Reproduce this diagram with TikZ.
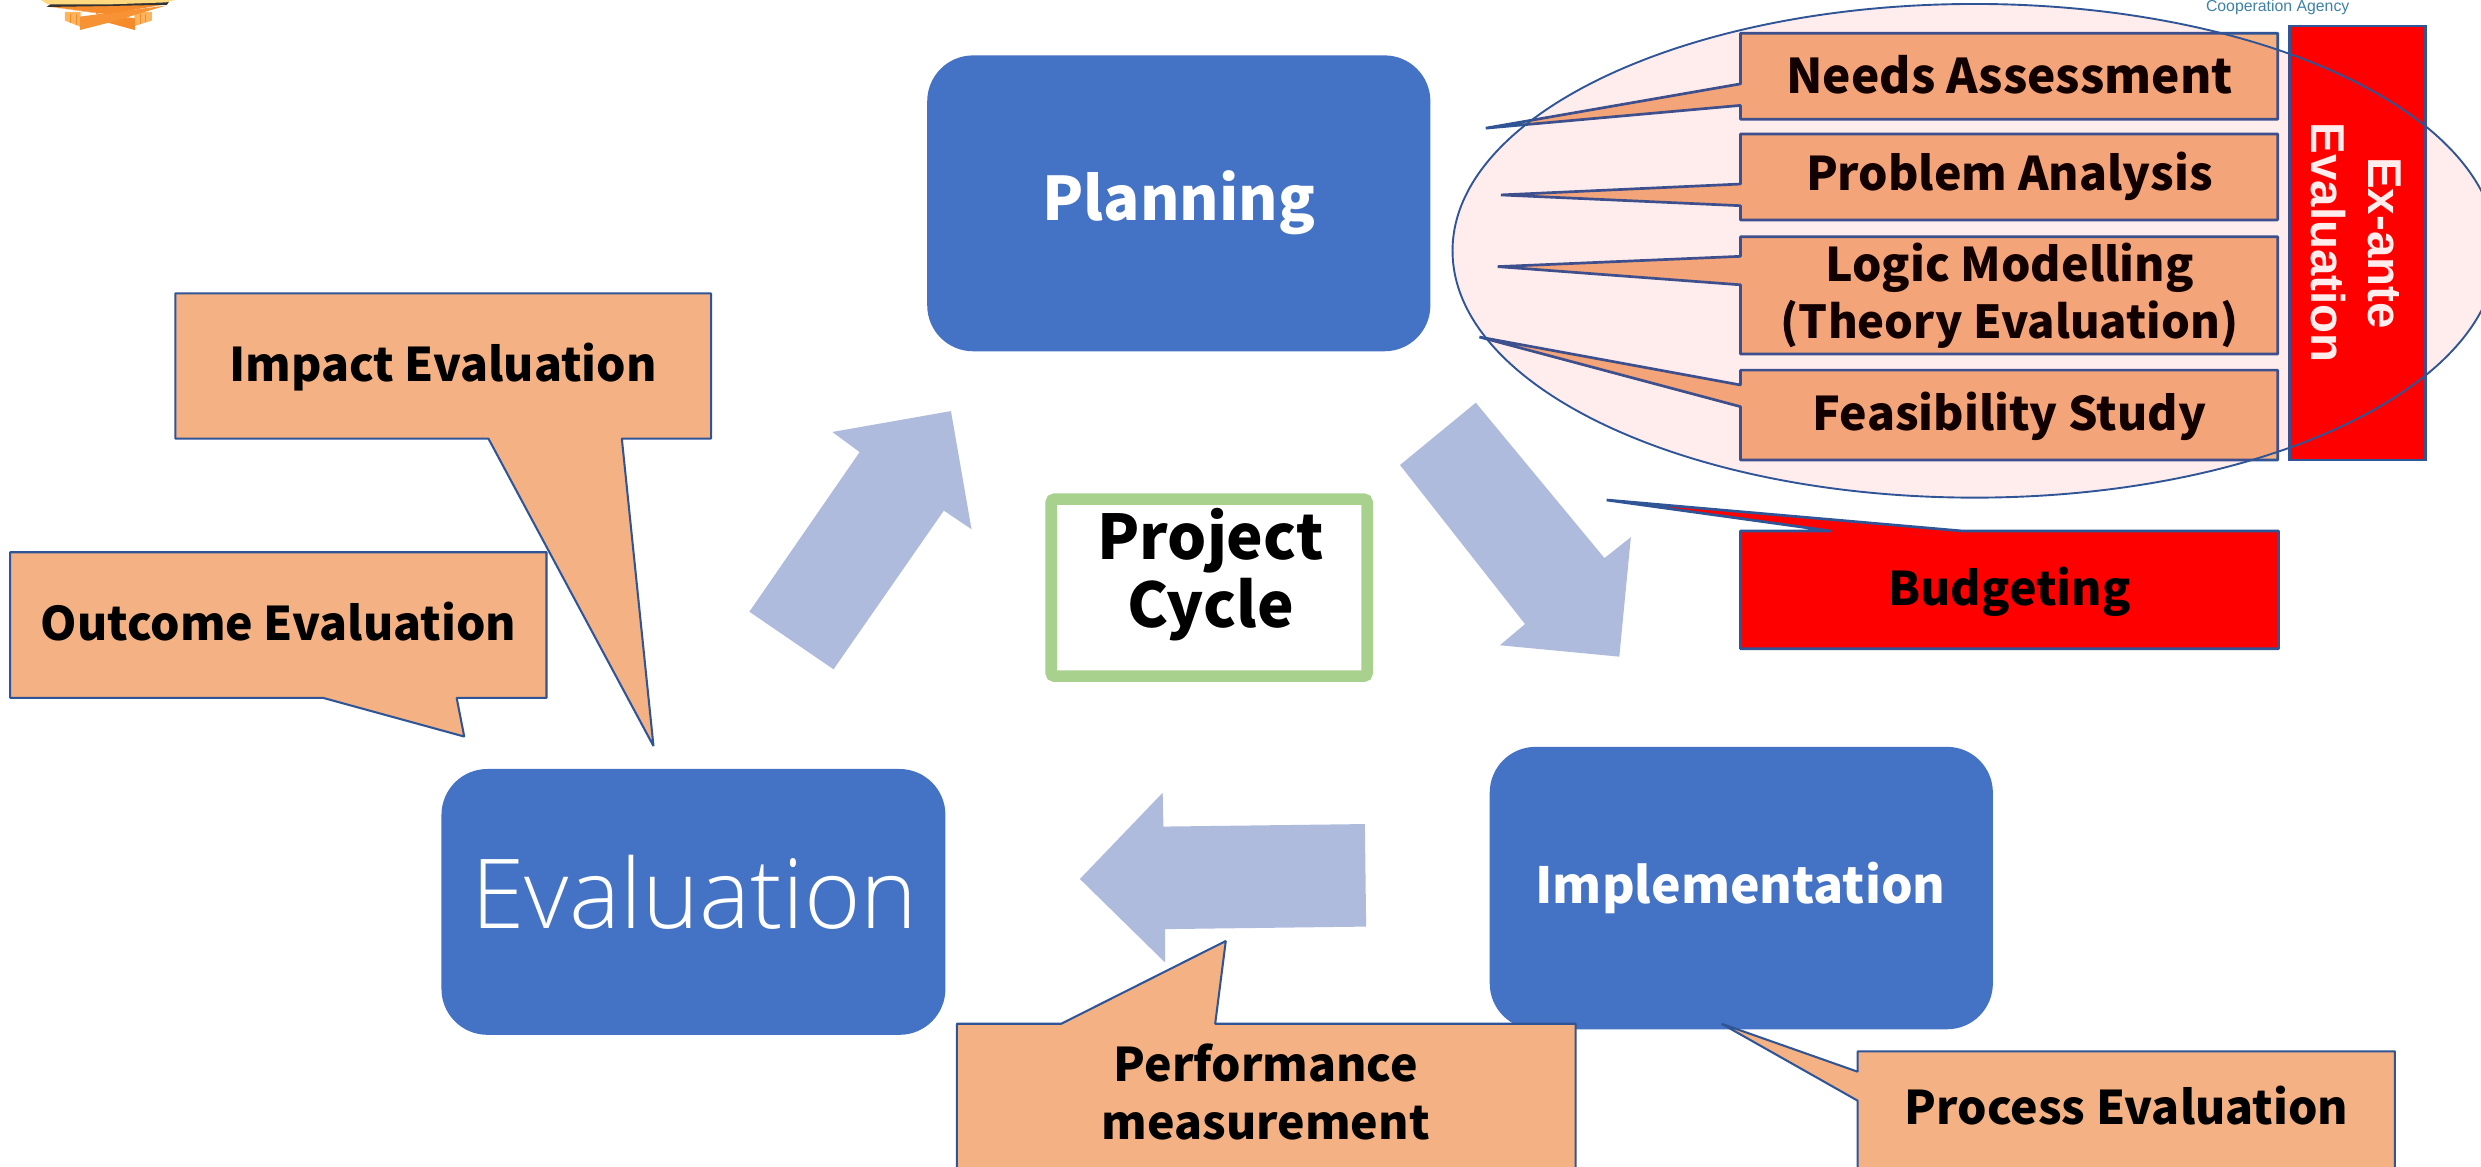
\documentclass[tikz,border=0pt]{standalone}
\usepackage{fontspec}
\usepackage{graphicx}
\setmainfont{Noto Sans CJK JP}
\newfontfamily\arialf{Liberation Sans}
\newfontfamily\lightf{Open Sans Light}
\definecolor{stageblue}{HTML}{4472C4}
\definecolor{edgeblue}{HTML}{2F5597}
\definecolor{arrowblue}{HTML}{AFBBDD}
\definecolor{peach}{HTML}{F4B183}
\definecolor{framegreen}{HTML}{A9D18E}
\definecolor{agencyblue}{HTML}{3F81A6}
\definecolor{logoorange}{HTML}{F58B2A}
\definecolor{logolight}{HTML}{FDB45C}
\definecolor{logocream}{HTML}{FFD980}
\tikzset{
  x=1pt,y=-1pt,
  stagebox/.style={fill=stageblue,rounded corners=29pt},
  stagetext/.style={text=white,align=center,inner sep=0pt},
  blockarrow/.style={fill=arrowblue},
  callout/.style={draw=edgeblue,fill=peach,line width=1.3pt,line join=bevel},
  plancallout/.style={callout,line width=1.7pt},
  redcallout/.style={plancallout,fill=red},
  label/.style={font=\bfseries\fontsize{29.3}{36}\selectfont,text=black,align=center,inner sep=0pt},
}
\begin{document}
\begin{tikzpicture}
\useasboundingbox (0,0) rectangle (1568,737);
\clip (0,0) rectangle (1568,737);
% logo fragment
\fill[logolight] (41,7.5) -- (51,7.5) -- (51,17) -- (41,13) -- cycle;
\fill[logolight] (85,7.5) -- (96,7.5) -- (96,13) -- (85,16.5) -- cycle;
\draw[logoorange,line width=.5pt] (44.5,9) -- (44.5,14.5) (48,9) -- (48,16) (88.5,9) -- (88.5,15.4) (92,9) -- (92,14.2);
\fill[logoorange] (30,4.2) -- (85.3,11.6) -- (85.3,19) -- (67,14) -- (60,8) -- cycle;
\fill[logoorange!80!logolight] (50.5,10.5) -- (105,3.5) -- (70,14) -- (50.5,19) -- cycle;
\fill[logoorange] (30,4) -- (106,2.5) -- (68,9) -- cycle;
\fill[black!80] (29.5,4.4) -- (32,2.5) -- (68,2.5) -- (107,0.8) -- (105.5,3) -- (68,3.8) -- cycle;
\fill[logocream] (26,0) -- (110.6,0) -- (105,1.5) -- (68,2.8) -- (30,2.8) -- cycle;
\node[font=\arialf\fontsize{10}{12}\selectfont,text=agencyblue,inner sep=0pt] (agency) at (1439.5,4.6) {Cooperation Agency};
% stages
\path[stagebox] (586,35) rectangle (904,222);
\node[stagetext,font=\bfseries\fontsize{38}{48}\selectfont] (planning) at (745,128) {Planning};
\path[stagebox] (941.5,472) rectangle (1259.5,650.5);
\node[stagetext,font=\bfseries\fontsize{31.5}{40}\selectfont] (implementation) at (1100,561) {Implementation};
\path[stagebox] (279,486) rectangle (597.5,654);
\node[stagetext,font=\lightf\fontsize{61}{70}\selectfont] (evaluation) at (439,564) {Evaluation};
% block arrows
\path[blockarrow] (932.7,254.5) -- (884.8,293.9) -- (963.8,394.4) -- (947.9,407.8) -- (1023.4,415) -- (1030.7,339.5) -- (1014,352.7) -- cycle;
\path[blockarrow] (473.6,386.6) -- (526.8,423) -- (596.5,322.7) -- (614,334.5) -- (601,259.8) -- (526,273) -- (543.3,285.7) -- cycle;
\path[blockarrow] (682.5,555.5) -- (734.8,501) -- (735.3,522.4) -- (862.6,520.8) -- (863.4,585.6) -- (736.4,587.2) -- (736.4,608.4) -- cycle;
% centre frame
\draw[framegreen,line width=7.3pt,rounded corners=2pt,fill=white] (664.4,315.5) rectangle (864,427.3);
\node[font=\bfseries\fontsize{39}{43}\selectfont,align=center,inner sep=0pt] (project) at (765,342) {Project};
\node[font=\bfseries\fontsize{39}{43}\selectfont,align=center,inner sep=0pt] (cycle) at (765,385) {Cycle};
% left callouts
\draw[callout] (110.8,185.4) -- (449.4,185.4) -- (449.4,277.2) -- (393,277.2) -- (413,471.5) -- (308.7,277.2) -- (110.8,277.2) -- cycle;
\node[label] (impact) at (280,232) {Impact Evaluation};
\draw[callout] (6.4,349) -- (345.4,349) -- (345.4,441) -- (288.6,441) -- (293.4,465.5) -- (204,441) -- (6.4,441) -- cycle;
\node[label] (outcome) at (176,393) {Outcome Evaluation};
% bottom callouts
\draw[callout] (604.7,647) -- (670.7,647) -- (774.7,594.7) -- (768,647) -- (995.8,647) -- (995.8,760) -- (604.7,760) -- cycle;
\node[label] (performance) at (800,672) {Performance};
\node[label] (measurement) at (800,710) {measurement};
\draw[callout] (1174,664.5) -- (1513.6,664.5) -- (1513.6,760) -- (1174,760) -- (1174,695.6) -- (1088,647) -- (1174,677.3) -- cycle;
\node[label] (process) at (1344,699) {Process Evaluation};
% planning callouts
\draw[plancallout] (1100,21) -- (1439.5,21) -- (1439.5,75.4) -- (1100,75.4) -- (1100,66.6) -- (939,81) -- (1100,53) -- cycle;
\draw[plancallout] (1100,84.7) -- (1439.5,84.7) -- (1439.5,139) -- (1100,139) -- (1100,130) -- (948.6,123.2) -- (1100,116.3) -- cycle;
\draw[plancallout] (1100,149.6) -- (1439.5,149.6) -- (1439.5,223.7) -- (1100,223.7) -- (1100,180) -- (946.6,168.5) -- (1100,162) -- cycle;
\draw[plancallout] (1100,233.9) -- (1439.5,233.9) -- (1439.5,290.7) -- (1100,290.7) -- (1100,257) -- (935,213) -- (1100,243.3) -- cycle;
\draw[redcallout] (1100,335.6) -- (1157,335.6) -- (1015.4,316) -- (1240.4,335.6) -- (1440,335.6) -- (1440,410) -- (1100,410) -- cycle;
\draw[plancallout,fill=red,line join=miter] (1447,16.4) rectangle (1533,290.7);
\node[label,font=\bfseries\fontsize{30.2}{36}\selectfont] (needs) at (1270,47) {Needs Assessment};
\node[label] (problem) at (1270,111.5) {Problem Analysis};
\node[label] (logic) at (1270,169) {Logic Modelling};
\node[label,font=\bfseries\fontsize{28.7}{36}\selectfont] (theory) at (1270,205) {(Theory Evaluation)};
\node[label] (feas) at (1270,263) {Feasibility Study};
\node[label] (budget) at (1270,374) {Budgeting};
\node[rotate=-90,font=\arialf\bfseries\fontsize{30}{36}\selectfont,text=white,align=center,inner sep=0pt] (exante) at (1489,153.5) {Ex-ante\\Evaluation};
% ellipse over the boxes
\path[fill=red,fill opacity=0.07] (1248,158.5) ellipse (330 and 156);
\draw[edgeblue,line width=1.2pt] (1248,158.5) ellipse (330 and 156);
\end{tikzpicture}
\end{document}
